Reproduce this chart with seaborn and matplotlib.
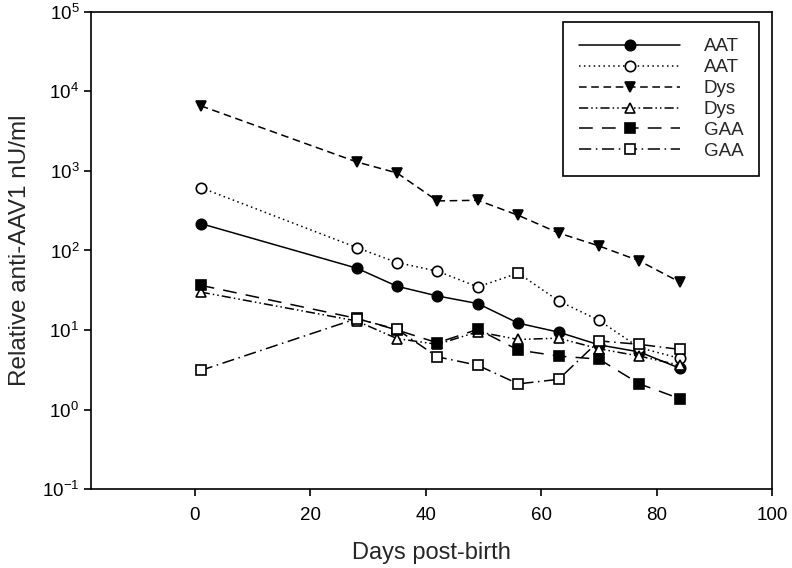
import numpy as np
import pandas as pd
import seaborn as sns
import matplotlib
matplotlib.use("Agg")
import matplotlib.pyplot as plt
from matplotlib.ticker import LogLocator, NullLocator

days = [1, 28, 35, 42, 49, 56, 63, 70, 77, 84]
aat_filled = [218, 60, 35.5, 26.8, 21.5, 12.2, 9.4, 6.5, 5.3, 3.3]
aat_open = [618, 109, 70.5, 55, 34.8, 52, 23.2, 13.2, 6.0, 4.4]
dys_filled = [6600, 1300, 944, 420, 428, 277, 166, 114, 74, 40]
dys_open = [30, 13, 7.8, 6.6, 9.5, 7.6, 7.9, 5.8, 4.7, 3.6]
gaa_filled = [36.5, 14, 10, 6.9, 10.2, 5.6, 4.7, 4.3, 2.1, 1.37]
gaa_open = [3.1, 13.9, 10.2, 4.6, 3.6, 2.1, 2.4, 7.3, 6.6, 5.7]

labels = ["AAT", "AAT", "Dys", "Dys", "GAA", "GAA"]
# the open AAT point at day 56 is drawn with a square in the original
odd_point = 5

sns.set_theme(style="ticks")
plt.rcParams["font.family"] = ["Liberation Sans", "DejaVu Sans"]
plt.rcParams["mathtext.default"] = "regular"
plt.rcParams["axes.unicode_minus"] = False

series = [
    (aat_filled, "o", "black", "-"),
    (aat_open, "o", "white", (0, (1, 2.2))),
    (dys_filled, "v", "black", (0, (5, 3))),
    (dys_open, "^", "white", (0, (6, 2, 1, 2, 1, 2))),
    (gaa_filled, "s", "black", (0, (9, 6))),
    (gaa_open, "s", "white", (0, (8, 3, 1, 3))),
]

fig, ax = plt.subplots(figsize=(7.92, 5.68), dpi=100)
fig.subplots_adjust(left=0.115, right=0.975, bottom=0.139, top=0.979)

for i, (vals, mk, fc, ls) in enumerate(series):
    df = pd.DataFrame({"day": days, "value": vals})
    every = [j for j in range(len(days)) if not (i == 1 and j == odd_point)]
    sns.lineplot(data=df, x="day", y="value", ax=ax, color="black", lw=1.1,
                 linestyle=ls, marker=mk, markersize=7.5, markerfacecolor=fc,
                 markeredgecolor="black", markeredgewidth=1.2,
                 markevery=every, label=labels[i])

ax.plot(days[odd_point], aat_open[odd_point], marker="s", ms=7.5, mfc="white",
        mec="black", mew=1.2, ls="none")

ax.set_yscale("log")
ax.set_ylim(0.1, 1e5)
ax.set_xlim(-18, 100)
ax.set_xticks([0, 20, 40, 60, 80, 100])
ax.yaxis.set_major_locator(LogLocator(base=10, numticks=10))
ax.yaxis.set_minor_locator(NullLocator())

for side in ["top", "right", "left", "bottom"]:
    ax.spines[side].set_linewidth(1.2)
    ax.spines[side].set_color("black")
ax.tick_params(axis="both", direction="out", length=5, width=1.2,
               colors="black", labelsize=13.5, top=False, right=False)
ax.tick_params(axis="x", pad=8)

ax.set_xlabel("Days post-birth", fontsize=17, labelpad=13)
ax.set_ylabel("Relative anti-AAV1 nU/ml", fontsize=17.5, labelpad=8)

leg = ax.legend(loc="upper right", bbox_to_anchor=(0.981, 0.978),
                borderaxespad=0, fontsize=13.5, handlelength=5.4,
                handletextpad=1.25, labelspacing=0.2, borderpad=0.85,
                fancybox=False, framealpha=1, edgecolor="black")
leg.get_frame().set_linewidth(1.2)

plt.savefig("out.png", dpi=100)
plt.close()
